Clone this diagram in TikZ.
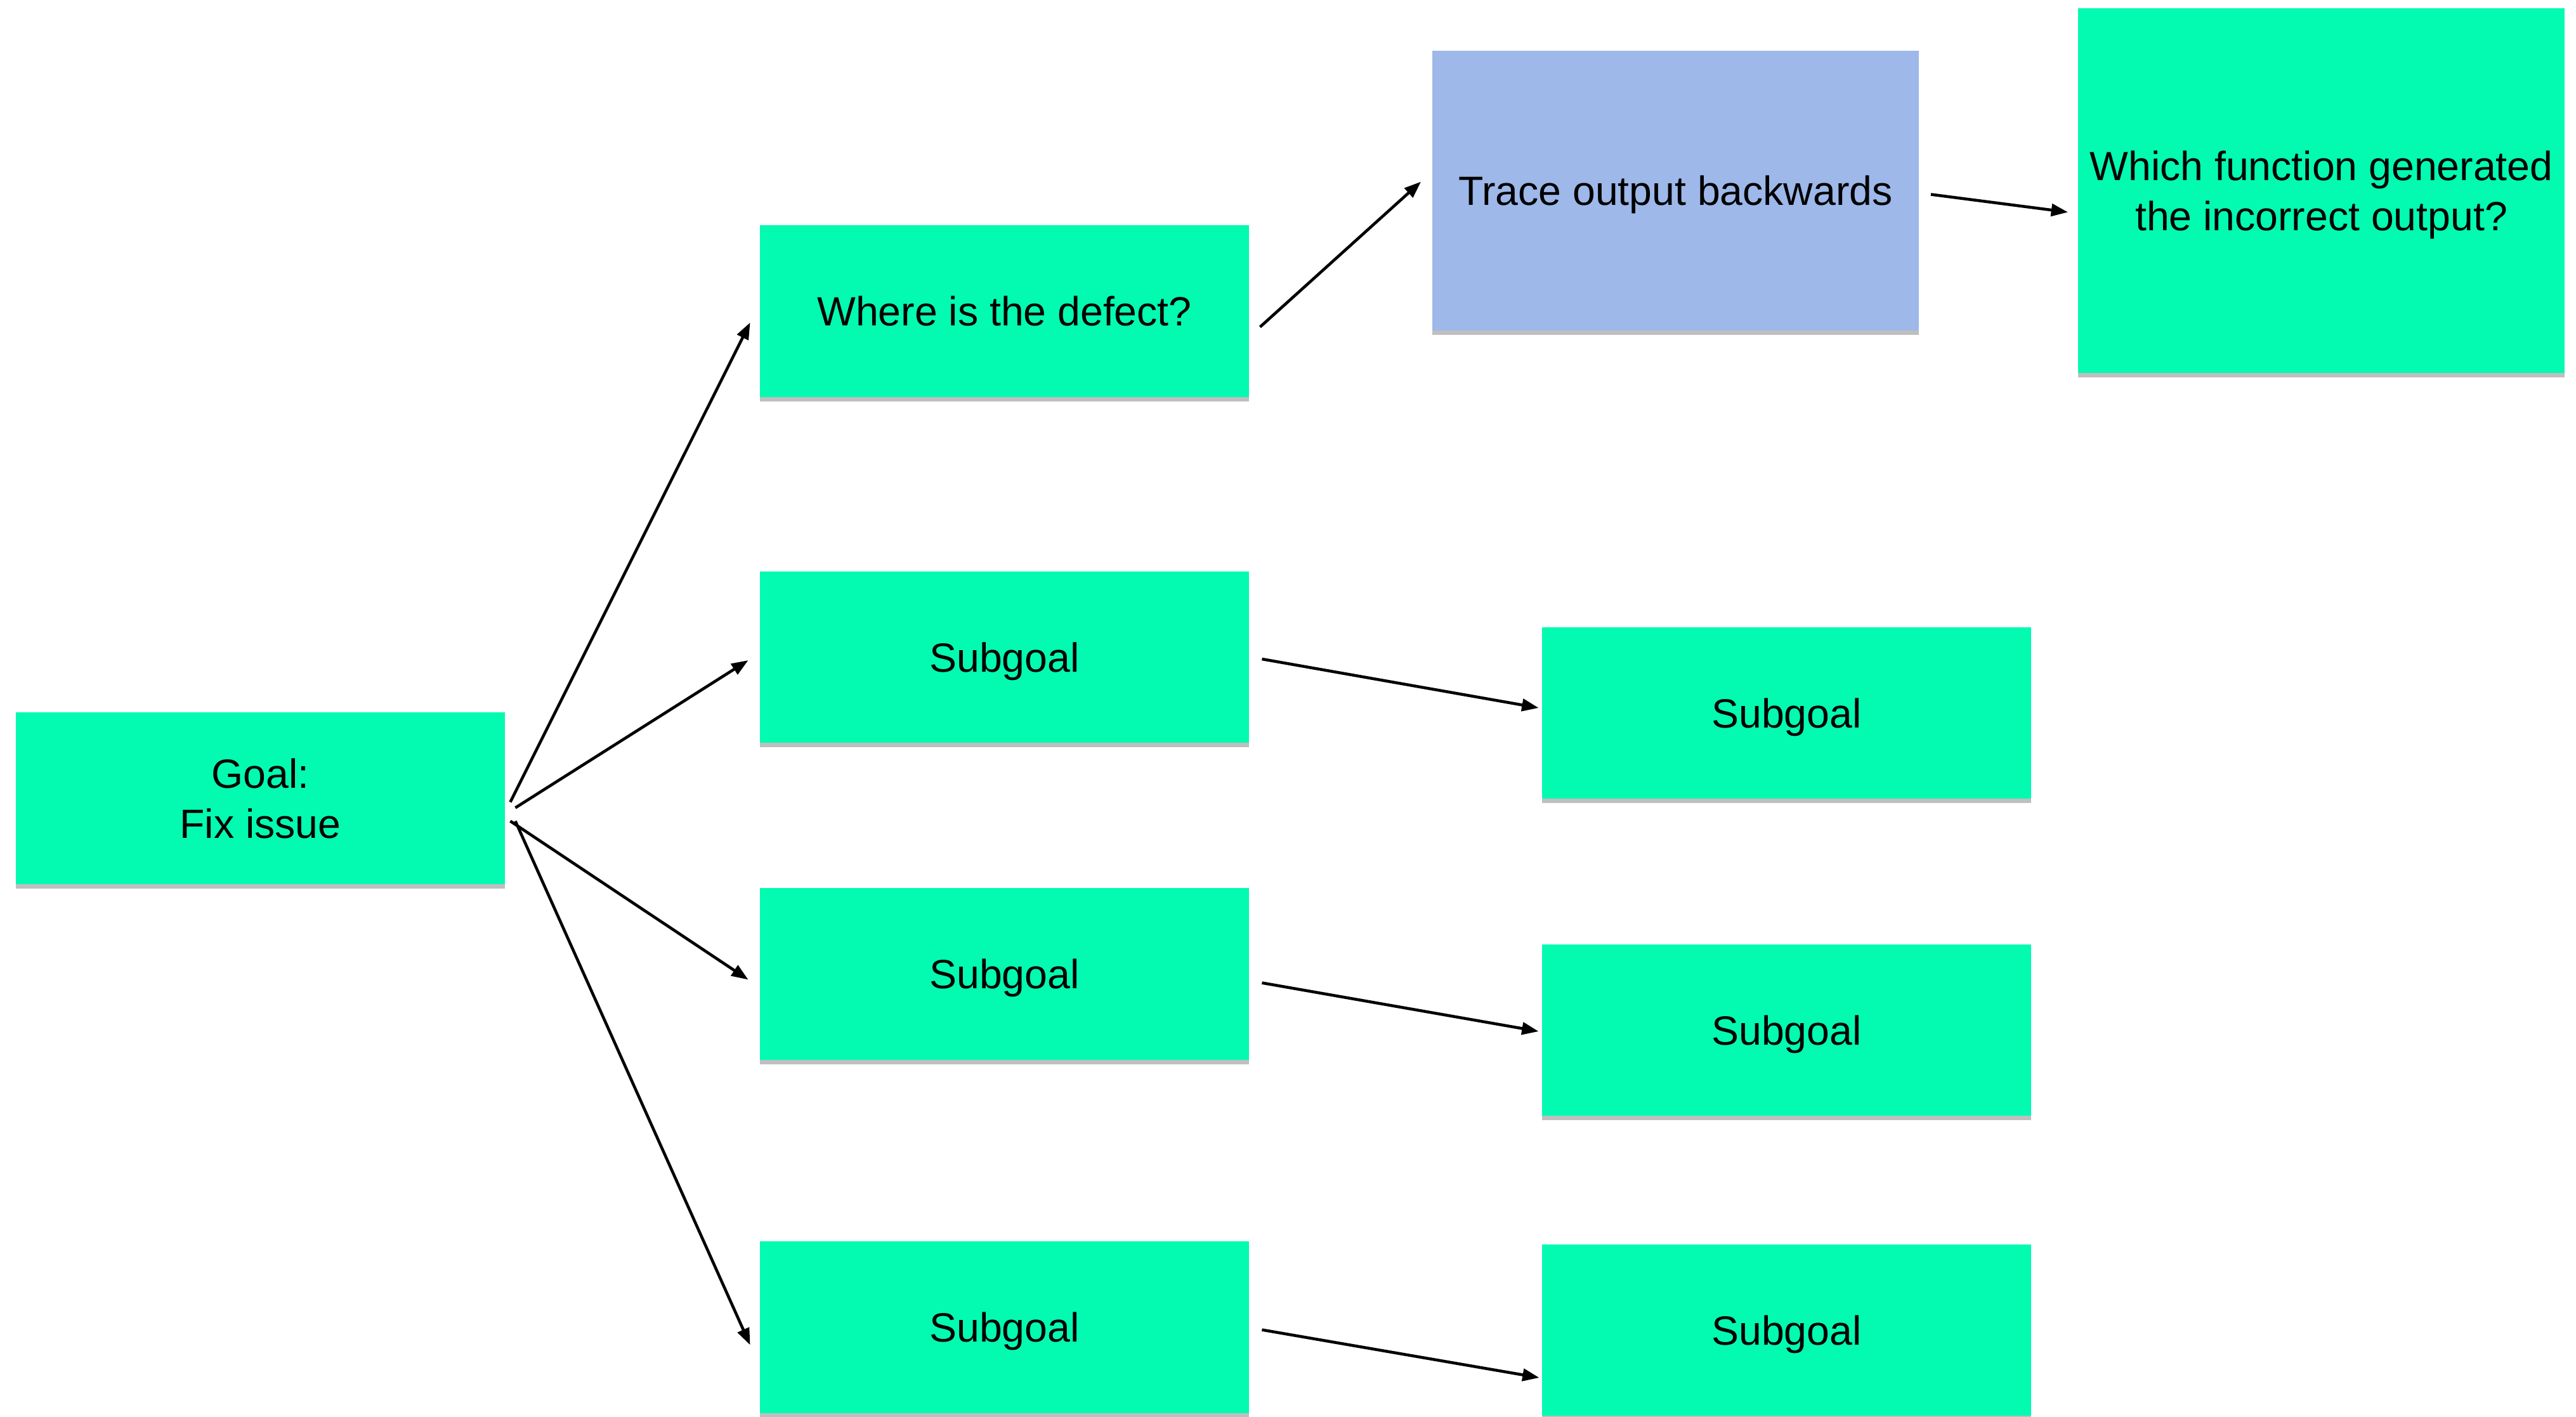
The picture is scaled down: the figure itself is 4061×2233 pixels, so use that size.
\documentclass[tikz,border=0pt]{standalone}
\usepackage{fontspec}
\setmainfont{Liberation Sans}
\usetikzlibrary{arrows.meta,calc,shadows}
\definecolor{boxgreen}{RGB}{2,251,177}
\definecolor{boxblue}{RGB}{157,184,233}
\begin{document}
\begin{tikzpicture}[x=0.01cm,y=-0.01cm,
  card/.style={rectangle, fill=boxgreen, inner sep=0pt, minimum width=7.70cm, minimum height=2.70cm,
    align=center, text depth=0pt, font=\fontsize{18.3}{22.6}\selectfont,
    drop shadow={opacity=0.25, shadow xshift=0pt, shadow yshift=-2pt, fill=black}},
  arr/.style={line width=1.3pt, -{Triangle[length=7.5pt,width=5.5pt]}}]
\useasboundingbox (0,0) rectangle (4061,2233);
\fill[white] (0,0) rectangle (4061,2233);
\node[card] (goal) at (410.5,1258.5) {Goal:\\Fix issue};
\node[card] (where) at (1583.5,490.5) {Where is the defect?};
\node[card] (sa) at (1583.5,1036) {Subgoal};
\node[card] (sb) at (1583.5,1535.5) {Subgoal};
\node[card] (sc) at (1583.5,2092.5) {Subgoal};
\node[card] (ta) at (2816.5,1124) {Subgoal};
\node[card] (tb) at (2816.5,1624) {Subgoal};
\node[card] (tc) at (2816.5,2097) {Subgoal};
\node[card, fill=boxblue, minimum height=4.41cm, minimum width=7.67cm] (trace) at (2641.5,300.5) {Trace output backwards};
\node[card, minimum height=5.75cm, minimum width=7.67cm] (which) at (3659.5,300.5) {Which function generated\\the incorrect output?};
\draw[arr] ($(goal.east)+(8,6)$) -- ($(where.west)+(-15,18)$);
\draw[arr] ($(goal.east)+(16,15)$) -- ($(sa.west)+(-18,5)$);
\draw[arr] ($(goal.east)+(8,36)$) -- ($(sb.west)+(-18,9)$);
\draw[arr] ($(goal.east)+(16,36)$) -- ($(sc.west)+(-15,28)$);
\draw[arr] ($(where.east)+(17,25)$) -- ($(trace.west)+(-17,-14)$);
\draw[arr] ($(trace.east)+(18,6)$) -- ($(which.west)+(-15,34)$);
\draw[arr] ($(sa.east)+(20,3)$) -- ($(ta.west)+(-5,-8)$);
\draw[arr] ($(sb.east)+(20,14)$) -- ($(tb.west)+(-5,2)$);
\draw[arr] ($(sc.east)+(20,4)$) -- ($(tc.west)+(-4,75)$);
\end{tikzpicture}
\end{document}
